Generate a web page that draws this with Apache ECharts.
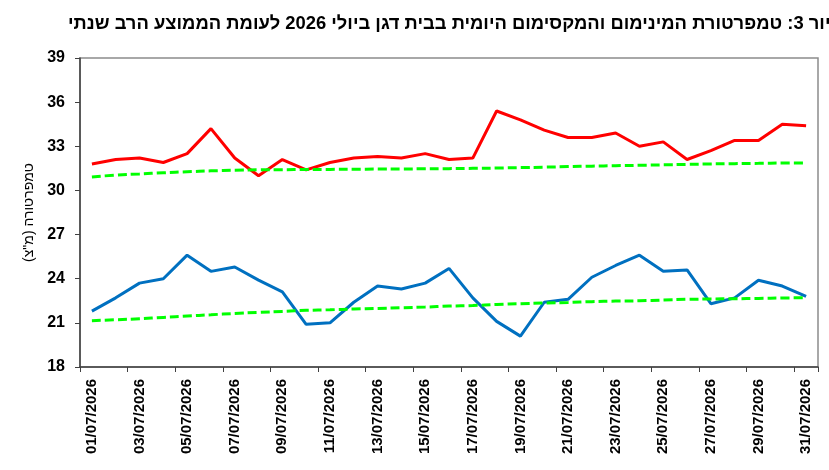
<!DOCTYPE html>
<html>
<head>
<meta charset="utf-8">
<script src="https://cdn.jsdelivr.net/npm/echarts@6/dist/echarts.min.js"></script>
<style>
html,body{margin:0;padding:0;background:#fff;}
#chart{width:829px;height:470px;}
</style>
</head>
<body>
<div id="chart"></div>
<script>
var titleText = 'איור 3: טמפרטורת המינימום והמקסימום היומית בבית דגן ביולי 2026 לעומת הממוצע הרב שנתי';
var yAxisName = 'טמפרטורה (מ"צ)\u200F';

var dates = ['01/07/2026','02/07/2026','03/07/2026','04/07/2026','05/07/2026','06/07/2026','07/07/2026','08/07/2026',
  '09/07/2026','10/07/2026','11/07/2026','12/07/2026','13/07/2026','14/07/2026','15/07/2026','16/07/2026',
  '17/07/2026','18/07/2026','19/07/2026','20/07/2026','21/07/2026','22/07/2026','23/07/2026','24/07/2026',
  '25/07/2026','26/07/2026','27/07/2026','28/07/2026','29/07/2026','30/07/2026','31/07/2026'];

var maxTemp = [31.8,32.1,32.2,31.9,32.5,34.2,32.2,31.0,32.1,31.4,31.9,32.2,32.3,32.2,32.5,32.1,
  32.2,35.4,34.8,34.1,33.6,33.6,33.9,33.0,33.3,32.1,32.7,33.4,33.4,34.5,34.4];

var minTemp = [21.8,22.7,23.7,24.0,25.6,24.5,24.8,23.9,23.1,20.9,21.0,22.4,23.5,23.3,23.7,24.7,
  22.7,21.1,20.1,22.4,22.6,24.1,24.9,25.6,24.5,24.6,22.3,22.7,23.9,23.5,22.8];

var maxNormal = [30.92,31.04,31.12,31.2,31.27,31.33,31.37,31.4,31.41,31.42,31.43,31.44,31.45,31.46,31.47,31.48,
  31.5,31.52,31.55,31.58,31.62,31.65,31.68,31.71,31.74,31.77,31.8,31.82,31.84,31.86,31.87];

var minNormal = [21.15,21.21,21.28,21.37,21.46,21.55,21.64,21.71,21.78,21.85,21.89,21.94,21.98,22.03,22.07,22.14,
  22.18,22.25,22.3,22.35,22.39,22.44,22.48,22.5,22.55,22.6,22.62,22.64,22.66,22.69,22.71];

var yMin = 18, yMax = 39, yStep = 3;

var chart = echarts.init(document.getElementById('chart'), null, {renderer:'canvas'});
var axisFont = 'Liberation Sans, Arial, sans-serif';
chart.setOption({
  animation: false,
  backgroundColor: '#ffffff',
  title: {
    text: titleText,
    left: 838,
    textAlign: 'right',
    top: 10,
    textStyle: {fontFamily: axisFont, fontSize: 18.4, fontWeight: 'bold', color: '#000'}
  },
  grid: {
    left: 80, right: 11, top: 58, bottom: 103,
    show: true, borderColor: '#8c8c8c', borderWidth: 1.5, backgroundColor: 'transparent'
  },
  xAxis: {
    type: 'category',
    data: dates,
    boundaryGap: true,
    axisLine: {show: true, lineStyle: {color: '#404040', width: 1.5}},
    axisTick: {show: true, length: 5, interval: 1, lineStyle: {color: '#404040', width: 1}},
    axisLabel: {interval: 1, rotate: 90, margin: 12, color: '#000', fontFamily: axisFont, fontSize: 15, fontWeight: 'bold'},
    splitLine: {show: false}
  },
  yAxis: {
    type: 'value',
    min: yMin, max: yMax, interval: yStep,
    name: yAxisName,
    nameLocation: 'middle',
    nameGap: 38,
    nameTextStyle: {fontFamily: axisFont, fontSize: 14, color: '#000'},
    axisLine: {show: true, lineStyle: {color: '#404040', width: 1.5}},
    axisTick: {show: true, length: 5, lineStyle: {color: '#404040', width: 1}},
    axisLabel: {margin: 15, color: '#000', fontFamily: axisFont, fontSize: 16, fontWeight: 'bold'},
    splitLine: {show: false}
  },
  series: [
    {type: 'line', data: maxTemp, symbol: 'none', lineStyle: {color: '#ff0000', width: 3}, z: 2},
    {type: 'line', data: minTemp, symbol: 'none', lineStyle: {color: '#0070c0', width: 3}, z: 2},
    {type: 'line', data: maxNormal, symbol: 'none', smooth: true, lineStyle: {color: '#00ff00', width: 3, type: [9, 4]}, z: 3},
    {type: 'line', data: minNormal, symbol: 'none', smooth: true, lineStyle: {color: '#00ff00', width: 3, type: [9, 4]}, z: 3}
  ]
});
</script>
</body>
</html>
